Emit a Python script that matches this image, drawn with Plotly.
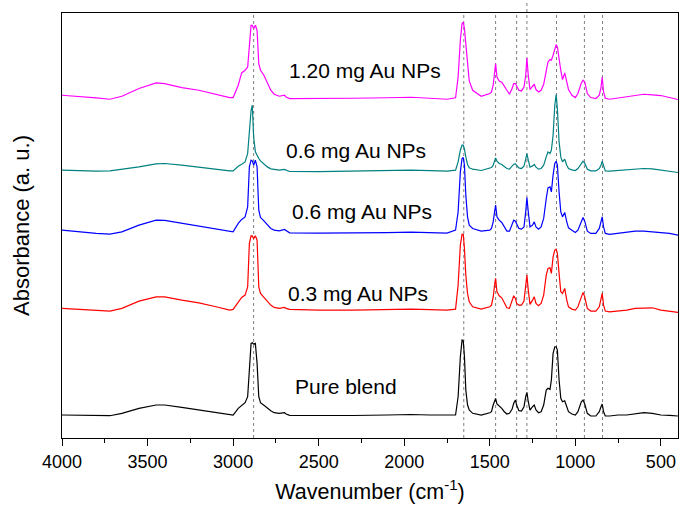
import plotly.graph_objects as go

# Wavenumbers (cm^-1) of the sampled points, shared by all spectra
wavenumber = [
    4000, 3900, 3800, 3720, 3650, 3550, 3450, 3400, 3300, 3200, 3100, 3020,
    3000, 2970, 2950, 2930, 2915, 2905, 2895, 2888, 2880, 2870, 2860, 2850,
    2840, 2820, 2800, 2780, 2760, 2730, 2700, 2690, 2670,
    2500, 2300, 2100, 1960, 1850, 1750,
    1700, 1685, 1672, 1662, 1655, 1648, 1640, 1630, 1620, 1600, 1550,
    1500, 1490, 1480, 1472, 1466, 1458, 1445, 1430, 1415, 1400, 1385,
    1370, 1360, 1350, 1343, 1330, 1315, 1300, 1290, 1283, 1275, 1265,
    1250, 1240, 1230, 1215, 1200, 1185, 1170, 1160, 1148, 1140, 1130,
    1120, 1112, 1105, 1095, 1085, 1075, 1062, 1050, 1040, 1020, 1000,
    985, 965, 955, 945, 930, 910, 880, 860, 850, 843, 835, 825,
    800, 750, 700, 650, 600, 550, 500, 450, 400,
]

# Absorbance (a. u., vertically offset as in the original stacked plot)
abs_120mg = [
    343, 342, 340.3, 339, 342, 349.7, 355.3, 354.7, 350.7, 348, 344, 340.7,
    340.7, 353, 365.3, 368, 371.3, 398, 413, 413, 409.7, 413, 408, 374.7,
    368, 363, 354.7, 348, 344, 342, 343, 341.3, 339.7,
    339.5, 340, 340.5, 341, 340, 339,
    340.5, 361.3, 398, 414.7, 416.3, 409.7, 394.7, 373, 357.3, 348, 342,
    344.7, 346.3, 353, 364.7, 374.7, 361.3, 357.3, 356, 352, 347.3, 344,
    349.7, 354.7, 354.7, 352, 348, 347.3, 351.3, 363, 380.3, 363, 348.7,
    352, 354, 348.7, 346.3, 348, 354, 367.3, 376.3, 378.7, 378, 383,
    390.7, 393.7, 391.3, 378, 368, 358.7, 365.3, 356.3, 348.7, 343, 340.7,
    344.7, 355.3, 358, 356.3, 344.7, 340.7, 339.7, 343, 350.7, 361.3, 346.3, 340,
    339, 340.3, 341.3, 343, 344, 343.3, 342.7, 340.7, 338.7,
]

abs_06mg_a = [
    268, 267.3, 267, 267.3, 268.7, 271.3, 274.3, 274.7, 273, 270.7, 268.7, 267.3,
    267.3, 272, 274, 276.3, 284.7, 308, 328, 333, 301.3, 286.3, 282, 279.7,
    277.3, 274, 271.3, 269.3, 268.7, 268, 268.7, 268, 266.7,
    266.5, 267, 267.5, 268, 267.5, 267,
    268, 276.3, 288, 293, 293, 289, 281.3, 273.7, 270.3, 269, 267.7,
    269.7, 270.7, 273, 277, 280.3, 277, 274.7, 273.7, 272, 269.7, 269,
    272, 274, 274.3, 273, 270.3, 269.7, 272, 279, 284.7, 278, 271,
    272.3, 273.7, 271, 269, 269.7, 273, 281.3, 286.3, 284.7, 288, 303,
    333, 343.7, 329.7, 296.3, 281.3, 276.3, 279, 273, 269.7, 268.3, 267.7,
    269.7, 274.7, 277, 275, 269, 267.3, 267.3, 269.7, 273, 277, 271.3, 267.3,
    267, 267.7, 268.3, 268.7, 269.7, 269.3, 268, 267, 265.7,
]

abs_06mg_b = [
    208, 206.3, 204.7, 204, 206.3, 213, 218, 217.7, 214.7, 212, 208.7, 206.3,
    206.3, 214.7, 218.7, 221.3, 231.3, 271.3, 278, 277.3, 273, 278, 271.3, 228,
    220.7, 217.3, 213, 209.7, 208, 207.3, 208.7, 207.3, 205.3,
    205, 205, 205.5, 206, 205.5, 205,
    208, 226.3, 266.3, 279.7, 280.7, 273, 243, 221.3, 213, 209.7, 207,
    208, 209.7, 216.3, 226.3, 233, 221.3, 218, 215.7, 211.3, 207, 207,
    213, 218, 217, 213.7, 209.7, 209, 211.3, 226.3, 240.7, 226.3, 211.3,
    213, 216.3, 211.3, 209, 211.3, 219.7, 239.7, 250.3, 251.3, 246.3, 263,
    274.7, 277, 273, 246.3, 226.3, 221.3, 225.7, 216.3, 210.3, 208, 205.7,
    208, 217, 220.7, 217, 207, 204.7, 204.7, 209.7, 215.7, 221.3, 211.3, 204.7,
    203.7, 204.7, 206, 207, 207, 206.3, 205.7, 204.7, 203,
]

abs_03mg = [
    129.7, 128.7, 127.3, 127, 129.7, 137, 141.3, 141.3, 138, 135.3, 131.3, 128,
    128.7, 136.3, 140.7, 143, 151.3, 194.7, 202.3, 202, 199.7, 202.3, 198, 151.3,
    144.7, 140.7, 136.3, 133, 130.7, 129.7, 130.7, 129.7, 128.7,
    128, 128, 128.5, 129, 128.5, 128,
    129, 153, 193, 204, 203.7, 189.7, 163, 144.7, 136.3, 131.3, 129,
    131.3, 133, 141.3, 153, 159.7, 146.3, 142.3, 140.3, 134.7, 130.3, 129.7,
    137, 142.3, 139.7, 134.7, 133, 133, 137, 151.3, 163, 148, 133.7,
    138, 141.3, 134.7, 132.3, 134.7, 143, 163, 169.7, 170.3, 164.7, 181.3,
    188, 189, 184.7, 164.7, 146.3, 144.7, 149.7, 138, 131.3, 129, 128,
    131.3, 141.3, 145.7, 141.3, 129.7, 127, 127, 131.3, 138, 144.7, 133, 127,
    126.3, 127, 128, 129.7, 130.3, 130.3, 128, 127, 125.7,
]

abs_pure = [
    23, 22.7, 22.3, 22.3, 24.7, 29.7, 33, 33, 30.7, 28, 25.7, 23.7,
    23, 29.7, 33, 35.3, 41.3, 71.3, 94.7, 95.3, 94, 94.7, 74.7, 41.3,
    35.3, 32.7, 29.7, 27.3, 25.3, 24.7, 25.3, 24, 22.7,
    22.5, 22.5, 23, 23.5, 23, 22.5,
    23, 41.3, 81.3, 98, 97.3, 81.3, 48, 33, 28, 24.7, 23,
    25.3, 26.3, 33, 38, 39.7, 34, 32, 29.7, 26.3, 24, 24.7,
    28.7, 34.7, 38, 33, 27.3, 27, 31.3, 41.3, 45.7, 36.3, 28,
    31.3, 33, 28, 25.3, 26.3, 33, 48, 49.7, 48.7, 58, 84.7,
    91.3, 91.3, 88, 58, 39.7, 36.3, 37.3, 31.3, 26.3, 24, 23,
    26.3, 36.3, 38, 34, 24.7, 22, 22, 26.3, 31.3, 34, 26.3, 22,
    22, 23, 23, 24, 25.3, 24.7, 23, 22.7, 22,
]

series = [
    ("Pure blend", abs_pure, "#000000"),
    ("0.3 mg Au NPs", abs_03mg, "#FF0000"),
    ("0.6 mg Au NPs", abs_06mg_b, "#0000FF"),
    ("0.6 mg Au NPs", abs_06mg_a, "#008080"),
    ("1.20 mg Au NPs", abs_120mg, "#FF00FF"),
]

# Series labels and their anchor points (wavenumber, absorbance)
label_text = ["1.20 mg Au NPs", "0.6 mg Au NPs", "0.6 mg Au NPs", "0.3 mg Au NPs", "Pure blend"]
label_wn = [2688, 2704, 2669, 2692, 2650]
label_abs = [368, 288, 226.3, 144.7, 52]

# Marker bands (dotted reference lines)
band_wn = [2880, 1652, 1466, 1343, 1283, 1110, 947, 841]

x_ticks = [4000, 3500, 3000, 2500, 2000, 1500, 1000, 500]

FONT = "Arial, Liberation Sans, sans-serif"

fig = go.Figure()
for name, vals, col in series:
    fig.add_trace(go.Scatter(x=wavenumber, y=vals, mode="lines", name=name,
                             line=dict(color=col, width=1.2), showlegend=False,
                             hoverinfo="skip"))

for wn in band_wn:
    fig.add_shape(type="line", xref="x", yref="paper", x0=wn, x1=wn,
                  y0=0, y1=1.03 if wn == 1283 else 1,
                  line=dict(color="#7f7f7f", width=1, dash="dot"), layer="below")

for t, xw, ya in zip(label_text, label_wn, label_abs):
    fig.add_annotation(x=xw, y=ya, xref="x", yref="y", text=t, showarrow=False,
                       xanchor="left", yanchor="middle",
                       font=dict(family=FONT, size=21, color="#000000"))

fig.update_layout(
    width=680, height=506,
    margin=dict(l=62, r=2, t=13, b=68, autoexpand=False),
    paper_bgcolor="white", plot_bgcolor="white",
    font=dict(family=FONT, color="#000000"),
    showlegend=False,
)
fig.update_xaxes(
    range=[4000, 400], tickvals=x_ticks, ticks="outside", ticklen=7, tickwidth=1,
    tickcolor="#000", showline=True, linecolor="#000", linewidth=1, mirror=True,
    showgrid=False, zeroline=False, automargin=False,
    tickfont=dict(family=FONT, size=18),
    minor=dict(dtick=250, tick0=0, ticks="outside", ticklen=4, tickcolor="#000", showgrid=False),
    title=dict(text="Wavenumber (cm<sup>-1</sup>)", font=dict(family=FONT, size=21.5), standoff=13),
)
fig.update_yaxes(
    range=[0, 425.3], showticklabels=False, ticks="", showline=True, linecolor="#000",
    linewidth=1, mirror=True, showgrid=False, zeroline=False, automargin=False,
    title=dict(text="Absorbance (a. u.)", font=dict(family=FONT, size=22), standoff=25),
)

fig.write_html("out.html", config={"displayModeBar": False},
               post_script="document.body.style.margin='0';")
